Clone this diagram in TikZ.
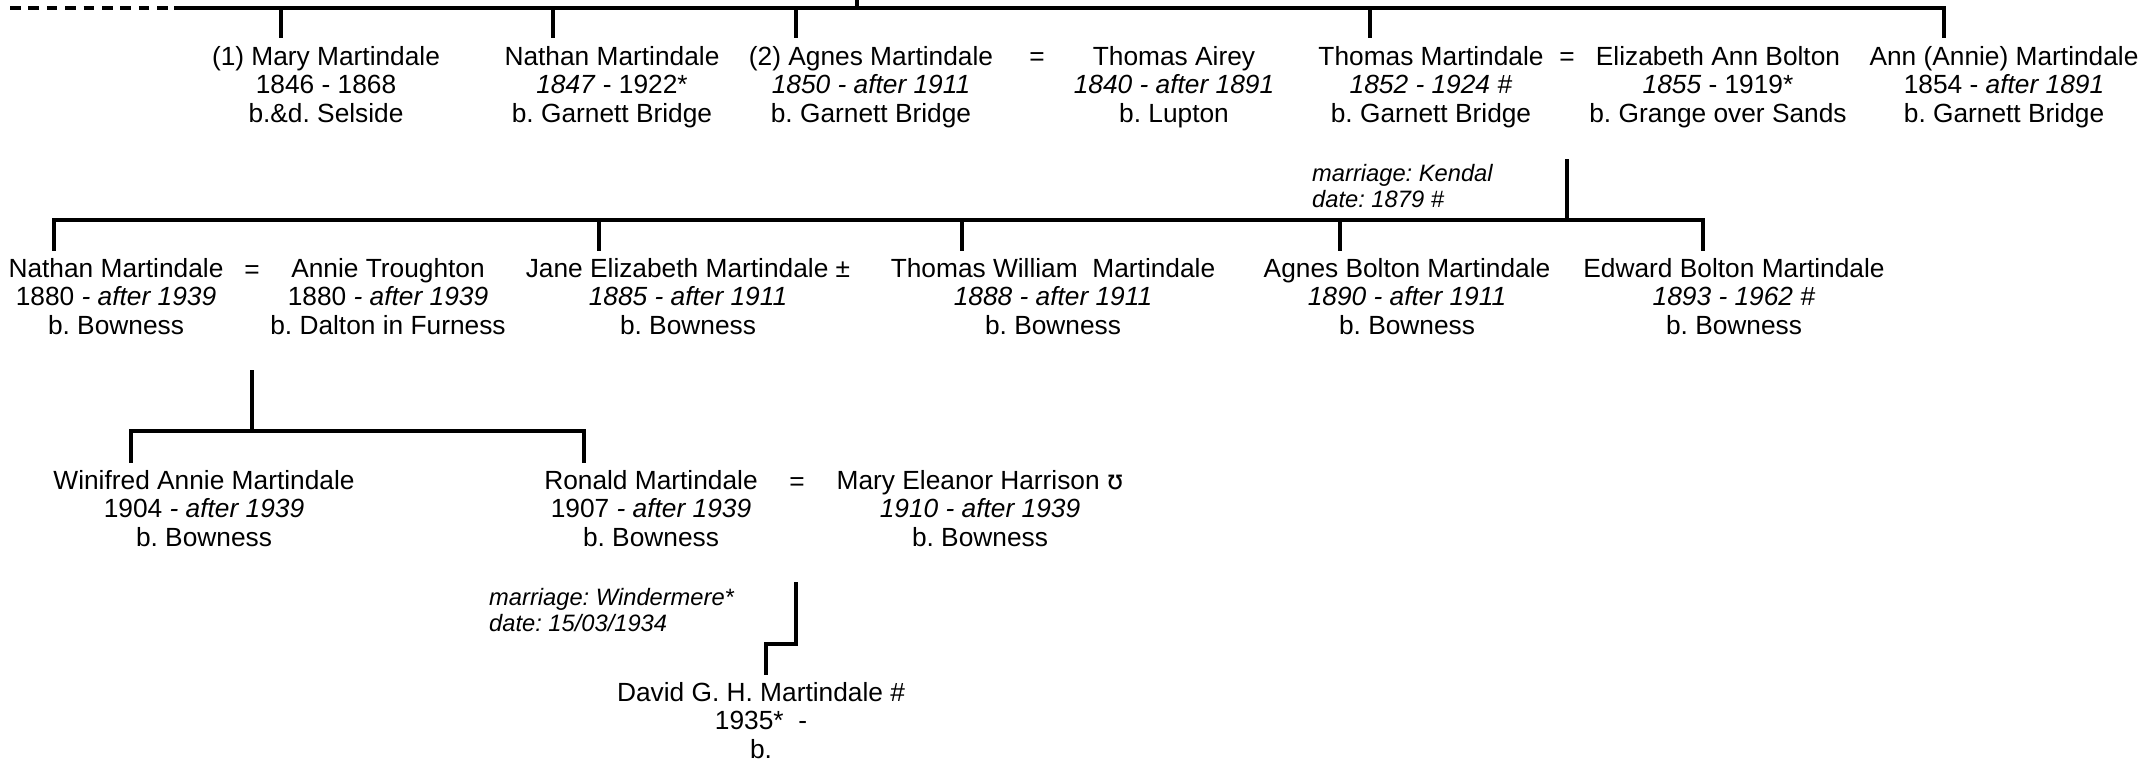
\documentclass[tikz,border=0pt]{standalone}
\usepackage{fontspec}
\setmainfont{Liberation Sans}
\newfontfamily\ipafont{DejaVu Sans}
\usepackage{tikz}
\frenchspacing

\begin{document}
\begin{tikzpicture}[x=1pt,y=-1pt,
    person/.style={align=center,anchor=north,inner sep=0pt,
      font=\fontsize{26.3}{28.6}\selectfont,execute at begin node=\strut},
    wed/.style={anchor=base,inner sep=0pt,font=\fontsize{26.3}{28.6}\selectfont},
    note/.style={align=left,anchor=north west,inner sep=0pt,
      font=\fontsize{23.7}{26}\selectfont\itshape,execute at begin node=\strut},
    famline/.style={line width=3.4pt,line cap=rect},
    drop/.style={famline,shorten >=9pt}]
  \useasboundingbox (0,0) rectangle (2145,760);
  %Generation 1
  \node[person] (mary1) at (326,45.8) {(1) Mary Martindale\\1846 - 1868\\b.\&d. Selside};
  \node[person] (nathan1) at (612,45.8) {Nathan Martindale\\\textit{1847} - 1922*\\b. Garnett Bridge};
  \node[person] (agnes1) at (871,45.8) {(2) Agnes Martindale\\\textit{1850 - after 1911}\\b. Garnett Bridge};
  \node[wed] (eq1) at (1037,66) {=};
  \node[person] (airey) at (1174,45.8) {Thomas Airey\\\textit{1840 - after 1891}\\b. Lupton};
  \node[person] (thomas1) at (1431,45.8) {Thomas Martindale\\\textit{1852 - 1924 \#}\\b. Garnett Bridge};
  \node[wed] (eq2) at (1567,66) {=};
  \node[person] (bolton) at (1718,45.8) {Elizabeth Ann Bolton\\\textit{1855} - 1919*\\b. Grange over Sands};
  \node[person] (ann1) at (2004,45.8) {Ann (Annie) Martindale\\1854 - \textit{after 1891}\\b. Garnett Bridge};
  %Generation 2
  \node[note] (kendal) at (1312,163.8) {marriage: Kendal\\date: 1879 \#};
  \node[person] (nathan2) at (116,257.8) {Nathan Martindale\\1880 \textit{- after 1939}\\b. Bowness};
  \node[wed] (eq3) at (252,278) {=};
  \node[person] (annie) at (388,257.8) {Annie Troughton\\1880 \textit{- after 1939}\\b. Dalton in Furness};
  \node[person] (jane) at (688,257.8) {Jane Elizabeth Martindale ±\\\textit{1885 - after 1911}\\b. Bowness};
  \node[person] (thomasw) at (1053,257.8) {Thomas William\ \ Martindale\\\textit{1888 - after 1911}\\b. Bowness};
  \node[person] (agnes2) at (1407,257.8) {Agnes Bolton Martindale\\\textit{1890 - after 1911}\\b. Bowness};
  \node[person] (edward) at (1734,257.8) {Edward Bolton Martindale\\\textit{1893 - 1962 \#}\\b. Bowness};
  %Generation 3
  \node[person] (winifred) at (204,469.8) {Winifred Annie Martindale\\1904 \textit{- after 1939}\\b. Bowness};
  \node[person] (ronald) at (651,469.8) {Ronald Martindale\\1907 \textit{- after 1939}\\b. Bowness};
  \node[wed] (eq4) at (797,490) {=};
  \node[person] (eleanor) at (980,469.8) {Mary Eleanor Harrison {\ipafont ʊ}\\\textit{1910 - after 1939}\\b. Bowness};
  \node[note] (windermere) at (489,587.8) {marriage: Windermere*\\date: 15/03/1934};
  %Generation 4
  \node[person] (david) at (761,681.8) {David G. H. Martindale \#\\1935*\ \ -\\b.};

  %Top bar
  \coordinate (b1a) at (10,8);
  \coordinate (b1b) at (176,8);
  \coordinate (b1c) at (1944,8);
  \coordinate (up) at (857,0);
  \draw[famline,line cap=butt,dash pattern=on 10.6pt off 7.8pt] (b1a) -- (b1b);
  \draw[famline] (b1b) -- (b1c);
  \draw[famline] (up) -- (up |- b1b);
  \foreach \n/\x in {mary1/281,nathan1/553,agnes1/796,thomas1/1370,ann1/1944}{
    \coordinate (d-\n) at (\x,8);
    \draw[drop] (d-\n) -- (d-\n |- \n.north);
  }
  %Children of Thomas and Elizabeth
  \coordinate (m1) at (1567,161);
  \coordinate (b2a) at (54,220);
  \coordinate (b2b) at (1703,220);
  \draw[famline] (m1) -- (m1 |- b2a);
  \draw[famline] (b2a) -- (b2b);
  \foreach \n/\x in {nathan2/54,jane/599,thomasw/962,agnes2/1340,edward/1703}{
    \coordinate (d-\n) at (\x,220);
    \draw[drop] (d-\n) -- (d-\n |- \n.north);
  }
  %Children of Nathan and Annie
  \coordinate (m2) at (252,372);
  \coordinate (b3a) at (131,431);
  \coordinate (b3b) at (584,431);
  \draw[famline] (m2) -- (m2 |- b3a);
  \draw[famline] (b3a) -- (b3b);
  \foreach \n/\x in {winifred/131,ronald/584}{
    \coordinate (d-\n) at (\x,431);
    \draw[drop] (d-\n) -- (d-\n |- \n.north);
  }
  %Child of Ronald and Mary
  \coordinate (m3) at (796,584);
  \coordinate (s3) at (766,644);
  \draw[drop] (m3) |- (s3) -- (s3 |- david.north);
\end{tikzpicture}
\end{document}
